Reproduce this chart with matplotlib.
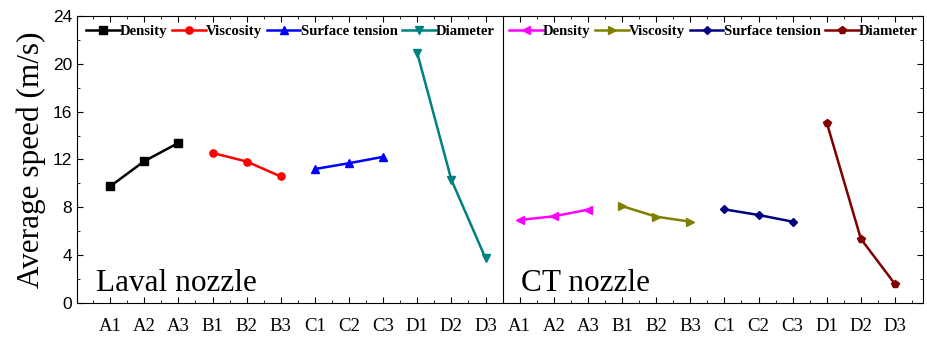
import matplotlib
matplotlib.use("Agg")
import matplotlib.pyplot as plt
from matplotlib.ticker import MultipleLocator

# categorias (se repiten para las dos toberas)
groups = ["A", "B", "C", "D"]
series_names = ["Density", "Viscosity", "Surface tension", "Diameter"]

laval_density = [9.75, 11.86, 13.38]
laval_viscosity = [12.55, 11.83, 10.58]
laval_tension = [11.2, 11.69, 12.22]
laval_diameter = [20.9, 10.3, 3.75]

ct_density = [6.94, 7.25, 7.8]
ct_viscosity = [8.1, 7.22, 6.8]
ct_tension = [7.83, 7.36, 6.8]
ct_diameter = [15.08, 5.36, 1.58]

tick_labels = [g + str(i) for g in groups for i in (1, 2, 3)] * 2

laval_series = [laval_density, laval_viscosity, laval_tension, laval_diameter]
ct_series = [ct_density, ct_viscosity, ct_tension, ct_diameter]

laval_colors = ["black", "red", "blue", "#008080"]
laval_markers = ["s", "o", "^", "v"]
ct_colors = ["#ff00ff", "#808000", "#000080", "#800000"]
ct_markers = ["<", ">", "D", "p"]

fig = plt.figure(figsize=(9.28, 3.38), dpi=100)
ax = fig.add_axes([0.083, 0.1036, 0.9116, 0.8491])

serif = "Liberation Serif"

laval_handles = []
for k in range(4):
    x = [k * 3 + 1 + i for i in range(3)]
    h, = ax.plot(x, laval_series[k], color=laval_colors[k], marker=laval_markers[k],
                 markersize=5.2, linewidth=1.8, label=series_names[k])
    laval_handles.append(h)

ct_handles = []
for k in range(4):
    x = [13 + k * 3 + i for i in range(3)]
    ms = 4.5 if ct_markers[k] == "D" else 5.5
    h, = ax.plot(x, ct_series[k], color=ct_colors[k], marker=ct_markers[k],
                 markersize=ms, linewidth=1.8, label=series_names[k])
    ct_handles.append(h)

# linea divisoria
ax.axvline(12.5, color="black", linewidth=0.8)

ax.set_xlim(0.03, 24.82)
ax.set_ylim(0, 24)
ax.set_xticks(range(1, 25))
ax.set_xticklabels(tick_labels, fontfamily=serif, fontsize=13.5)
ax.xaxis.set_minor_locator(MultipleLocator(0.5))
ax.yaxis.set_major_locator(MultipleLocator(4))
ax.yaxis.set_minor_locator(MultipleLocator(2))
ax.tick_params(axis="y", labelsize=12.5)
for lab in ax.get_yticklabels():
    lab.set_fontfamily("Liberation Sans")
ax.tick_params(which="both", direction="in", top=True, right=True)
ax.tick_params(which="major", length=4)
ax.tick_params(which="minor", length=2.5)
ax.tick_params(axis="x", pad=11)

ax.set_ylabel("Average speed (m/s)", fontfamily=serif, fontsize=22.5)
ax.yaxis.set_label_coords(-0.037, 0.5)

ax.text(0.6, 1.0, "Laval nozzle", fontfamily=serif, fontsize=22.5)
ax.text(13.05, 1.0, "CT nozzle", fontfamily=serif, fontsize=22.5)

leg_font = {"family": serif, "weight": "bold", "size": 10.6}
leg_kw = dict(ncol=4, frameon=False, prop=leg_font, handlelength=2.3,
              handletextpad=0.02, columnspacing=0.3, borderaxespad=0.6,
              borderpad=0.0)
leg1 = ax.legend(handles=laval_handles, loc="upper left",
                 bbox_to_anchor=(0.0, 1.0), **leg_kw)
ax.add_artist(leg1)
ax.legend(handles=ct_handles, loc="upper left", bbox_to_anchor=(0.5, 1.0), **leg_kw)

plt.savefig("out.png", dpi=100)
